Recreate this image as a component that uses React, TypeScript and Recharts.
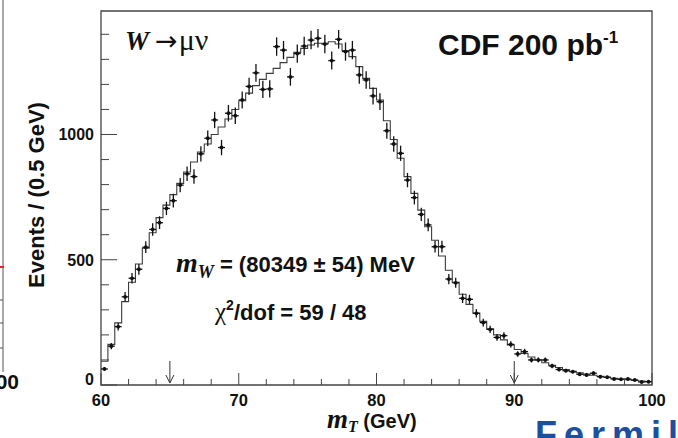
import React from "react";
import {
  ComposedChart,
  Line,
  Scatter,
  XAxis,
  YAxis,
  ErrorBar,
  ReferenceArea,
} from "recharts";

// binning of the transverse mass histogram
const BIN_LO = 60;
const BIN_W = 0.5;

// data: events per 0.5 GeV bin, 60 - 100 GeV
const events = [
  64, 155, 233, 352, 426, 462, 550, 621, 648, 705,
  736, 798, 843, 832, 923, 985, 1058, 948, 1085, 1075,
  1138, 1192, 1246, 1180, 1182, 1351, 1337, 1230, 1323, 1353,
  1377, 1384, 1361, 1295, 1380, 1331, 1337, 1238, 1218, 1154,
  1131, 1015, 962, 925, 818, 748, 681, 639, 552, 552,
  423, 408, 346, 342, 286, 249, 222, 190, 197, 162,
  124, 133, 100, 100, 100, 76, 62, 57, 53, 43,
  40, 47, 33, 31, 24, 23, 24, 20, 12, 13,
];

// simulated template at the fitted mass
const template = [
  95, 162, 248, 333, 410, 483, 546, 608, 668, 718,
  760, 805, 850, 890, 930, 962, 1000, 1030, 1062, 1100,
  1135, 1165, 1195, 1220, 1244, 1264, 1287, 1308, 1328, 1344,
  1357, 1364, 1364, 1370, 1361, 1335, 1311, 1271, 1224, 1184,
  1138, 1055, 980, 905, 832, 765, 698, 632, 578, 515,
  458, 410, 362, 322, 287, 254, 224, 200, 180, 160,
  142, 126, 112, 100, 89, 79, 70, 62, 55, 49,
  44, 39, 35, 31, 27, 24, 21, 18, 16, 14,
];

// fit window
const fitRange = [65, 90];

const xTicks = [60, 62, 64, 66, 68, 70, 72, 74, 76, 78, 80, 82, 84, 86, 88, 90, 92, 94, 96, 98, 100];
const xLabels = [60, 70, 80, 90, 100];
const yTicks = [0, 100, 200, 300, 400, 500, 600, 700, 800, 900, 1000, 1100, 1200, 1300, 1400];
const yLabels = [0, 500, 1000];
const Y_MAX = 1493;

const points = events.map((n, i) => ({
  m: BIN_LO + BIN_W * (i + 0.5),
  y: n,
  ey: Math.sqrt(n),
  ex: BIN_W / 2,
}));

const steps = template.map((n, i) => ({ m: BIN_LO + BIN_W * i, y: n }));
steps.push({ m: BIN_LO + BIN_W * template.length, y: template[template.length - 1] });

const arrows = fitRange.map((m) => ({ m, y: 0 }));

const SANS = "'Liberation Sans', Arial, Helvetica, sans-serif";
const SERIF = "'Liberation Serif', 'Times New Roman', serif";
const INK = "#111";
const FRAME = "#444";

const XTick = (props: any) => {
  const { x, y, payload } = props;
  const major = xLabels.includes(payload.value);
  return (
    <g>
      <line x1={x} x2={x} y1={y} y2={y - (major ? 12 : 6)} stroke={FRAME} strokeWidth={1} />
      {major && (
        <text x={x} y={y + 21} textAnchor="middle" fontFamily={SANS} fontWeight="bold" fontSize={16.5} fill={INK}>
          {payload.value}
        </text>
      )}
    </g>
  );
};

const YTick = (props: any) => {
  const { x, y, payload } = props;
  const major = yLabels.includes(payload.value);
  return (
    <g>
      <line x1={x} x2={x + (major ? 16 : 8)} y1={y} y2={y} stroke={FRAME} strokeWidth={1} />
      {major && (
        <text
          x={x - 7}
          y={payload.value === 0 ? y : y + 6}
          textAnchor="end"
          fontFamily={SANS}
          fontWeight="bold"
          fontSize={16}
          fill={INK}
        >
          {payload.value}
        </text>
      )}
    </g>
  );
};

const Marker = (props: any) => {
  const { cx, cy } = props;
  return <circle cx={cx} cy={cy} r={1.9} fill={INK} />;
};

const Arrow = (props: any) => {
  const { cx, cy } = props;
  return (
    <g stroke="#333" strokeWidth={1} fill="none">
      <line x1={cx} x2={cx} y1={cy - 24} y2={cy - 2} />
      <polyline points={`${cx - 4},${cy - 10} ${cx},${cy - 2} ${cx + 4},${cy - 10}`} />
    </g>
  );
};

export default function App() {
  return (
    <div style={{ position: "fixed", left: 0, top: 0, width: 678, height: 438, background: "#fff", overflow: "hidden" }}>
      <ComposedChart
        width={678}
        height={438}
        margin={{ top: 11, right: 26, bottom: 23, left: 41 }}
      >
        <XAxis
          dataKey="m"
          type="number"
          domain={[60, 100]}
          ticks={xTicks}
          interval={0}
          height={30}
          axisLine={false}
          tickLine={false}
          tickSize={0}
          tickMargin={0}
          tick={<XTick />}
          allowDataOverflow
        />
        <YAxis
          type="number"
          domain={[0, Y_MAX]}
          ticks={yTicks}
          interval={0}
          width={60}
          axisLine={false}
          tickLine={false}
          tickSize={0}
          tickMargin={0}
          tick={<YTick />}
          allowDataOverflow
        />
        <ReferenceArea x1={60} x2={100} y1={0} y2={Y_MAX} fill="none" stroke={FRAME} strokeWidth={1.3} fillOpacity={0} />
        <Line
          data={steps}
          dataKey="y"
          type="stepAfter"
          stroke="#3c3c3c"
          strokeWidth={1.1}
          dot={false}
          activeDot={false}
          isAnimationActive={false}
        />
        <Scatter data={points} dataKey="y" shape={<Marker />} isAnimationActive={false}>
          <ErrorBar dataKey="ey" direction="y" width={0} stroke={INK} strokeWidth={1.3} isAnimationActive={false} />
          <ErrorBar dataKey="ex" direction="x" width={0} stroke={INK} strokeWidth={1.3} isAnimationActive={false} />
        </Scatter>
        <Scatter data={arrows} dataKey="y" shape={<Arrow />} isAnimationActive={false} />
      </ComposedChart>

      <svg width={678} height={438} style={{ position: "absolute", left: 0, top: 0, pointerEvents: "none" }}>
        {/* neighbouring panel edge */}
        <line x1={3} x2={3} y1={0} y2={372} stroke="#555" strokeWidth={1} />
        <line x1={0} x2={3} y1={300} y2={300} stroke="#555" />
        <line x1={0} x2={3} y1={323} y2={323} stroke="#555" />
        <line x1={0} x2={3} y1={348} y2={348} stroke="#555" />
        <line x1={0} x2={4} y1={267} y2={267} stroke="#e0262a" strokeWidth={2} />
        <text x={19} y={389} textAnchor="end" fontFamily={SANS} fontWeight="bold" fontSize={21} fill={INK}>
          100
        </text>

        <text x={125} y={50} fill={INK}>
          <tspan fontFamily={SERIF} fontSize={27} fontWeight="bold" fontStyle="italic">W</tspan>
          <tspan fontFamily="'DejaVu Sans', sans-serif" fontSize={27} dx={6}>→</tspan>
          <tspan fontFamily={SERIF} fontSize={30} dx={1}>μν</tspan>
        </text>

        <text x={438} y={55} fontFamily={SANS} fontWeight="bold" fontSize={30} fill={INK}>
          CDF 200 pb
          <tspan fontSize={17} dy={-12}>-1</tspan>
        </text>

        <text x={176} y={272} fill={INK}>
          <tspan fontFamily={SERIF} fontWeight="bold" fontStyle="italic" fontSize={28}>m</tspan>
          <tspan fontFamily={SERIF} fontWeight="bold" fontStyle="italic" fontSize={18} dy={6}>W</tspan>
          <tspan fontFamily={SANS} fontWeight="bold" fontSize={22} dy={-6}> = (80349 ± 54) MeV</tspan>
        </text>

        <text x={215} y={320} fill={INK}>
          <tspan fontFamily={SERIF} fontSize={25}>χ</tspan>
          <tspan fontFamily={SANS} fontWeight="bold" fontSize={14} dy={-10}>2</tspan>
          <tspan fontFamily={SANS} fontWeight="bold" fontSize={22} dy={10}>/dof = 59 / 48</tspan>
        </text>

        <text x={327} y={428} fill={INK}>
          <tspan fontFamily={SERIF} fontWeight="bold" fontStyle="italic" fontSize={27}>m</tspan>
          <tspan fontFamily={SERIF} fontWeight="bold" fontStyle="italic" fontSize={16} dy={4}>T</tspan>
          <tspan fontFamily={SANS} fontWeight="bold" fontSize={20} dy={-4}> (GeV)</tspan>
        </text>

        <text
          transform="translate(44,195) rotate(-90)"
          textAnchor="middle"
          fontFamily={SANS}
          fontWeight="bold"
          fontSize={22}
          fill={INK}
        >
          Events / (0.5 GeV)
        </text>

        <text x={535} y={447} fontFamily={SANS} fontWeight="bold" fontSize={36} fill="#1c4f9e" letterSpacing={7}>
          Fermilab
        </text>
      </svg>
    </div>
  );
}
